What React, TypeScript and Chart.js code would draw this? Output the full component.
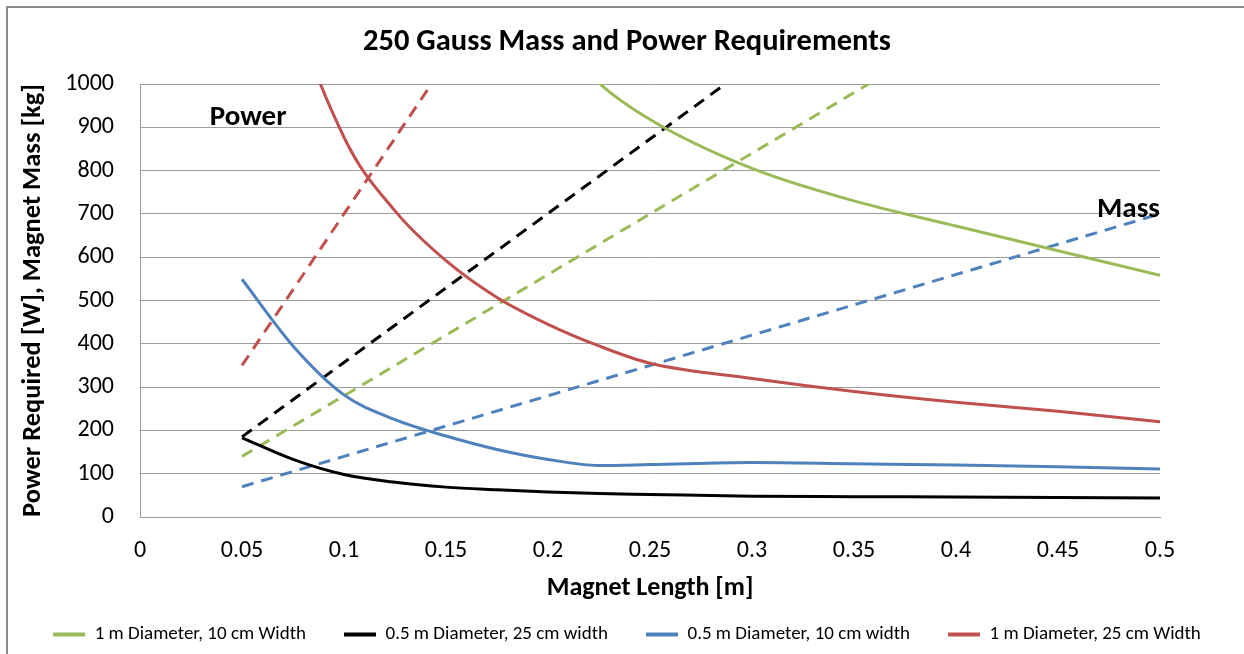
import { useEffect, useRef } from "react";
import { Chart, registerables } from "chart.js";

Chart.register(...registerables);

const FONT = "Carlito, Calibri, Lato, sans-serif";
const GRID = "#9d9d9d";

// Magnet length [m]
const powerX = [0.05, 0.075, 0.1, 0.125, 0.15, 0.175, 0.2, 0.225, 0.25, 0.3, 0.35, 0.4, 0.45, 0.5];
const massX = [0.05, 0.1, 0.15, 0.2, 0.25, 0.3, 0.35, 0.4, 0.45, 0.5];
const xTickLabels = ["0", "0.05", "0.1", "0.15", "0.2", "0.25", "0.3", "0.35", "0.4", "0.45", "0.5"];
const yTickLabels = ["0", "100", "200", "300", "400", "500", "600", "700", "800", "900", "1000"];

const seriesNames = [
  "1 m Diameter, 10 cm Width",
  "0.5 m Diameter, 25 cm width",
  "0.5 m Diameter, 10 cm width",
  "1 m Diameter, 25 cm Width",
];
const seriesColors = ["#9BBB59", "#000000", "#4F81BD", "#C0504D"];

// Power required [W] (solid lines), at powerX
const power1m10cm = [4500, 3000, 2250, 1800, 1500, 1290, 1130, 1002, 918, 805, 730, 672, 615, 558];
const power05m25cm = [183, 133, 98, 80, 69, 63, 58, 54, 52, 48, 47, 46, 45, 44];
const power05m10cm = [549, 395, 282, 225, 187, 156, 133, 119, 121, 126, 123, 120, 116, 111];
const power1m25cm = [1800, 1200, 877, 707, 592, 507, 445, 395, 355, 320, 290, 265, 244, 220];

// Magnet mass [kg] (dashed lines), at massX
const mass1m10cm = [140, 280, 420, 560, 700, 840, 980, 1120];
const mass05m25cm = [185, 357, 529, 701, 873, 1045];
const mass05m10cm = [70, 140, 210, 280, 350, 420, 490, 560, 630, 700];
const mass1m25cm = [350, 700, 1050];

const textLabels = [
  { text: "Power", x: 0.053, y: 905 },
  { text: "Mass", x: 0.4845, y: 693 },
];

const toPoints = (xs: number[], vals: number[]) => vals.map((v, i) => ({ x: xs[i], y: v }));

const annotationPlugin = {
  id: "annotations",
  afterDraw(chart: any) {
    const { ctx, scales } = chart;
    ctx.save();
    // outer frame (top and left edges visible)
    ctx.strokeStyle = "#8a8a8a";
    ctx.lineWidth = 2;
    ctx.beginPath();
    ctx.moveTo(7, chart.height);
    ctx.lineTo(7, 7);
    ctx.lineTo(chart.width, 7);
    ctx.stroke();
    // text labels
    ctx.fillStyle = "#000";
    ctx.font = `bold 29px ${FONT}`;
    ctx.textAlign = "center";
    ctx.textBaseline = "alphabetic";
    for (const l of textLabels) {
      ctx.fillText(l.text, scales.x.getPixelForValue(l.x), scales.y.getPixelForValue(l.y));
    }
    ctx.restore();
  },
};

export default function App() {
  const ref = useRef<HTMLCanvasElement | null>(null);

  useEffect(() => {
    if (!ref.current) return;
    const powerSeries = [power1m10cm, power05m25cm, power05m10cm, power1m25cm];
    const massSeries = [mass1m10cm, mass05m25cm, mass05m10cm, mass1m25cm];
    const datasets: any[] = [];
    powerSeries.forEach((vals, i) => {
      datasets.push({
        label: seriesNames[i],
        data: toPoints(powerX, vals),
        borderColor: seriesColors[i],
        backgroundColor: seriesColors[i],
        borderWidth: 3,
        pointRadius: 0,
        tension: 0.4,
        cubicInterpolationMode: "monotone",
        fill: false,
        clip: 0,
      });
    });
    massSeries.forEach((vals, i) => {
      datasets.push({
        label: seriesNames[i] + " (mass)",
        data: toPoints(massX, vals),
        borderColor: seriesColors[i],
        backgroundColor: seriesColors[i],
        borderWidth: 3,
        borderDash: [12, 8],
        pointRadius: 0,
        tension: 0,
        fill: false,
        clip: 0,
      });
    });

    const chart = new Chart(ref.current, {
      type: "line",
      data: { datasets },
      plugins: [annotationPlugin],
      options: {
        animation: false,
        responsive: false,
        layout: { padding: { top: 0, right: 0, bottom: 0, left: 10 } },
        elements: { line: { capBezierPoints: false } },
        plugins: {
          title: {
            display: true,
            text: "250 Gauss Mass and Power Requirements",
            color: "#000",
            font: { family: FONT, size: 30.5, weight: "bold" },
            padding: { top: 24.5, bottom: 22.9 },
          },
          legend: {
            position: "bottom",
            labels: {
              color: "#000",
              font: { family: FONT, size: 19 },
              usePointStyle: true,
              pointStyle: "line",
              pointStyleWidth: 32,
              boxHeight: 19,
              padding: 38,
              filter: (item: any) => item.datasetIndex < 4,
              generateLabels: (c: any) =>
                Chart.defaults.plugins.legend.labels
                  .generateLabels(c)
                  .map((it: any) => ({ ...it, lineWidth: 4, lineDash: [], pointStyle: "line" })),
            },
          },
          tooltip: { enabled: false },
        },
        scales: {
          x: {
            type: "linear",
            min: 0,
            max: 0.5,
            ticks: {
              stepSize: 0.05,
              autoSkip: false,
              maxRotation: 0,
              color: "#000",
              padding: 20,
              font: { family: FONT, size: 24 },
              callback: (v: any) => xTickLabels[Math.round(Number(v) / 0.05)],
            },
            grid: { display: false, drawTicks: false },
            border: { display: true, color: GRID, width: 1 },
            title: {
              display: true,
              text: "Magnet Length [m]",
              color: "#000",
              font: { family: FONT, size: 26, weight: "bold" },
              padding: { top: 0, bottom: -17 },
            },
            afterFit: (s: any) => {
              s.height = 70;
              s.paddingRight = 84;
            },
          },
          y: {
            type: "linear",
            min: 0,
            max: 1000,
            ticks: {
              stepSize: 100,
              color: "#000",
              padding: 26,
              font: { family: FONT, size: 24 },
              callback: (v: any) => yTickLabels[Math.round(Number(v) / 100)],
            },
            grid: { color: GRID, lineWidth: 1, drawTicks: false },
            border: { display: true, color: GRID, width: 1 },
            title: {
              display: true,
              text: "Power Required [W], Magnet Mass [kg]",
              color: "#000",
              font: { family: FONT, size: 26.5, weight: "bold" },
              padding: { top: 7.1, bottom: 0 },
            },
            afterFit: (s: any) => {
              s.width = 130;
            },
          },
        },
      } as any,
    });
    return () => chart.destroy();
  }, []);

  return (
    <div style={{ position: "absolute", left: 0, top: 0, width: 1244, height: 654, background: "#fff" }}>
      <canvas ref={ref} width={1244} height={654} style={{ display: "block" }} />
    </div>
  );
}
